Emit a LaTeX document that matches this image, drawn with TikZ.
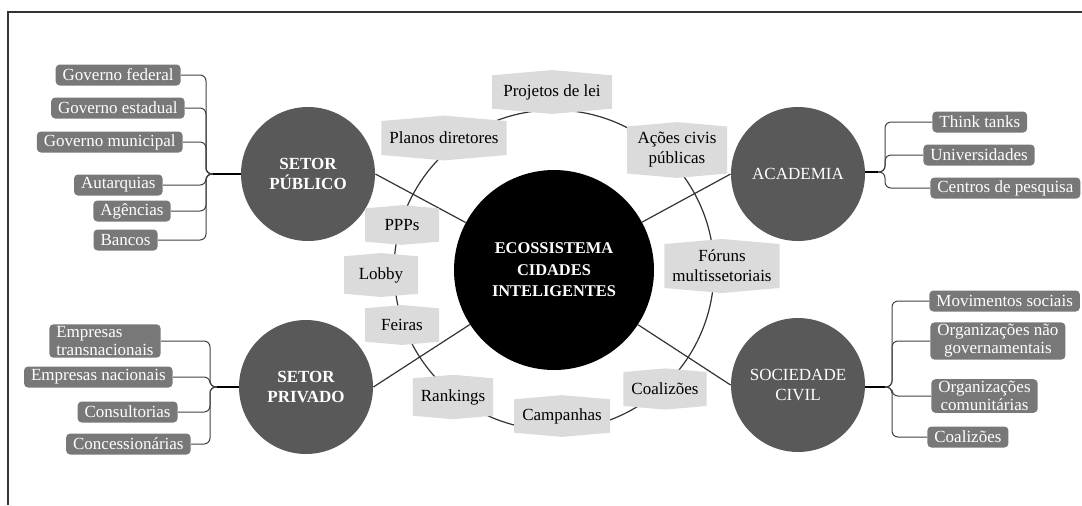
\documentclass[tikz,border=0pt]{standalone}
\usepackage{fontspec}
\setmainfont{Liberation Serif}
\usetikzlibrary{shapes.symbols,backgrounds}
\definecolor{circgray}{gray}{0.35}
\definecolor{leafgray}{gray}{0.47}
\definecolor{taggray}{gray}{0.86}

\begin{document}
\begin{tikzpicture}[x=0.5pt,y=-0.5pt,
   font=\fontsize{8.5}{10}\selectfont,
   core/.style={circle,fill=black,text=white,minimum size=100pt,inner sep=0pt,
     align=center,font=\fontsize{8.2}{10.8}\selectfont\bfseries},
   sector/.style={circle,fill=circgray,text=white,minimum size=67pt,inner sep=0pt,align=center},
   leaf/.style={fill=leafgray,text=white,rounded corners=2pt,inner xsep=3.5pt,inner ysep=1pt,
     minimum height=10.5pt,font=\fontsize{8.5}{9}\selectfont},
   ringtag/.style={shape=signal,signal to=north and south,signal pointer angle=170,
     fill=taggray,inner xsep=4pt,inner ysep=5.5pt,minimum width=37pt,align=center},
   spoke/.style={draw=black!80,line width=0.6pt},
   branch/.style={draw=black!75,line width=0.5pt,rounded corners=3pt},
   hubline/.style={draw=black,line width=1.2pt}]
  \useasboundingbox (0,0) rectangle (1082,505);
  \draw[black!80,line width=0.7pt] (1082,12) -- (8,12) -- (8,505);

  % centre and the four sectors
  \node[core] (eco) at (554,270) {ECOSSISTEMA\\CIDADES\\INTELIGENTES};
  \node[sector,font=\fontsize{8.5}{10}\selectfont\bfseries] (pub) at (308,174) {SETOR\\PÚBLICO};
  \node[sector,font=\fontsize{8.5}{10}\selectfont\bfseries] (pri) at (306,387) {SETOR\\PRIVADO};
  \node[sector] (aca) at (798,174) {ACADEMIA};
  \node[sector] (soc) at (798,385) {SOCIEDADE\\CIVIL};

  % instruments on the ring
  \node[ringtag,minimum width=60pt,inner ysep=4.5pt] (pl) at (552,92) {Projetos de lei};
  \node[ringtag,minimum width=61pt] (pd)  at (444,138) {Planos diretores};
  \node[ringtag,minimum width=50pt,inner ysep=3pt] (acp) at (677,150) {Ações civis\\públicas};
  \node[ringtag] (ppp) at (402,225) {PPPs};
  \node[ringtag] (lob) at (381,275) {Lobby};
  \node[ringtag] (fei) at (402,325) {Feiras};
  \node[ringtag] (ran) at (453,397) {Rankings};
  \node[ringtag,minimum width=48pt,inner ysep=4.5pt] (cam) at (562,416) {Campanhas};
  \node[ringtag] (coa) at (665,389) {Coalizões};
  \node[ringtag,minimum width=57pt,inner ysep=3pt] (for) at (722,266) {Fóruns\\multissetoriais};

  % setor publico
  \node[leaf,anchor=east] (gf)  at (181,75)  {Governo federal};
  \node[leaf,anchor=east] (ge)  at (185,108) {Governo estadual};
  \node[leaf,anchor=east] (gm)  at (183,142) {Governo municipal};
  \node[leaf,anchor=east] (aut) at (163,185) {Autarquias};
  \node[leaf,anchor=east] (agc) at (171,211) {Agências};
  \node[leaf,anchor=east] (bco) at (158,240) {Bancos};
  \coordinate (pubj) at (206,174);
  \coordinate (pubh) at (213,174);

  % setor privado
  \node[leaf,anchor=east,align=left] (et) at (161,341) {Empresas\\transnacionais};
  \node[leaf,anchor=east] (en)  at (173,377) {Empresas nacionais};
  \node[leaf,anchor=east] (con) at (178,412) {Consultorias};
  \node[leaf,anchor=east] (cnc) at (191,444) {Concessionárias};
  \coordinate (prij) at (210,387);
  \coordinate (prih) at (217,387);

  % academia
  \node[leaf,anchor=west] (tt)  at (932,122) {Think tanks};
  \node[leaf,anchor=west] (uni) at (923,155) {Universidades};
  \node[leaf,anchor=west] (cp)  at (930,188) {Centros de pesquisa};
  \coordinate (acaj) at (885,172);
  \coordinate (acah) at (878,172);

  % sociedade civil
  \node[leaf,anchor=west] (ms)  at (929,301) {Movimentos sociais};
  \node[leaf,anchor=west,align=center] (ong) at (930,341) {Organizações não\\governamentais};
  \node[leaf,anchor=west,align=center] (oc)  at (931,396) {Organizações\\comunitárias};
  \node[leaf,anchor=west] (col) at (927,437) {Coalizões};
  \coordinate (socj) at (892,387);
  \coordinate (soch) at (885,387);

  \begin{pgfonlayer}{background}
    \draw[spoke] (eco.center) circle[radius=80pt];
    \draw[spoke] (eco) -- (pub.east);
    \draw[spoke] (eco) -- (pri.east);
    \draw[spoke] (eco) -- (aca.west);
    \draw[spoke] (eco) -- (soc.west);
  \end{pgfonlayer}

  \foreach \n in {gf,ge,gm,aut,agc,bco}
    \draw[branch] (\n.east) -| (pubj) -- (pubh);
  \draw[hubline] (pubh) -- (pub.west |- pubh);
  \foreach \n in {et,en,con,cnc}
    \draw[branch] (\n.east) -| (prij) -- (prih);
  \draw[hubline] (prih) -- (pri.west |- prih);
  \foreach \n in {tt,uni,cp}
    \draw[branch] (acah) -- (acaj) |- (\n.west);
  \draw[hubline] (aca.east |- acah) -- (acah);
  \foreach \n in {ms,ong,oc,col}
    \draw[branch] (soch) -- (socj) |- (\n.west);
  \draw[hubline] (soc.east |- soch) -- (soch);
\end{tikzpicture}
\end{document}
